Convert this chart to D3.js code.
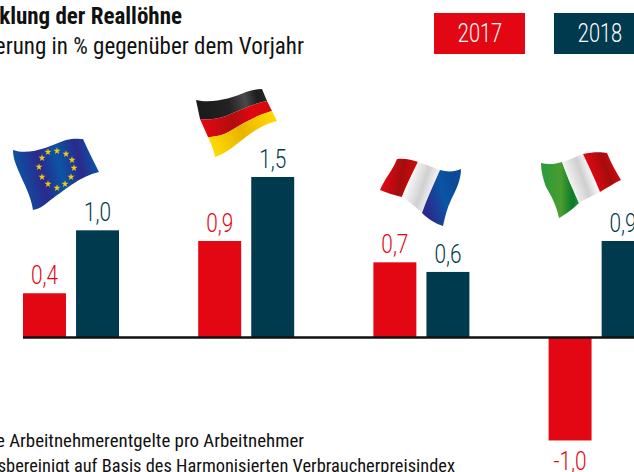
<!DOCTYPE html>
<html><head><meta charset="utf-8"><script src="https://cdn.jsdelivr.net/npm/d3@7"></script>
<style>html,body{margin:0;padding:0;background:#fff}svg{display:block}text{font-family:"Roboto Condensed",sans-serif}.lt{font-family:Roboto,sans-serif;font-weight:360}</style>
</head><body><svg id="c" width="634" height="472"></svg>
<script>
const categories = ["EU", "Deutschland", "Frankreich", "Italien"];
const years = ["2017", "2018"];
const values2017 = [0.41, 0.9, 0.7, -0.97];
const values2018 = [1.0, 1.5, 0.61, 0.9];
const colors = {"2017":"#e30613","2018":"#003a4f"};
const fmt = v => String(v.toFixed(1)).replace(".", ",");
const svg = d3.select("#c");

const x0 = d3.scaleBand().domain(categories).range([23, 723.8]);
const x1 = d3.scaleBand().domain(years).range([0, 96]).paddingInner(0.19);
const y = d3.scaleLinear().domain([0, 1.5]).range([337, 177]);

const cond = (sel, x, yy, sx) => sel.attr("transform", `translate(${x},${yy}) scale(${sx},1)`);

years.forEach((yr, k) => {
  const vals = k ? values2018 : values2017;
  const g = svg.append("g");
  g.selectAll("rect").data(vals).join("rect")
    .attr("x", (d,i) => x0(categories[i]) + x1(yr))
    .attr("width", x1.bandwidth())
    .attr("y", d => d >= 0 ? y(d) : y(0))
    .attr("height", d => Math.abs(y(d) - y(0)))
    .attr("fill", colors[yr]);
  vals.forEach((d,i) => {
    const t = g.append("text").attr("class","lt").attr("text-anchor","middle").attr("font-size",26)
      .attr("fill", colors[yr]).text(fmt(d));
    cond(t, x0(categories[i]) + x1(yr) + x1.bandwidth()/2, d >= 0 ? y(d) - 9 : y(d) + 30, 0.8);
  });
});
svg.append("line").attr("x1",23).attr("x2",634).attr("y1",y(0)+.5).attr("y2",y(0)+.5).attr("stroke","#111").attr("stroke-width",2.4);

// legend
[[434,"2017"],[554,"2018"]].forEach(([lx,t]) => {
  svg.append("rect").attr("x",lx).attr("y",13).attr("width",91).attr("height",41).attr("fill",colors[t]);
  cond(svg.append("text").attr("class","lt").attr("text-anchor","middle").attr("font-size",25).attr("fill","#fff").text(t), lx+46, 42, 0.8);
});
// titles
svg.append("text").attr("x",182).attr("y",24).attr("text-anchor","end").attr("font-size",23).attr("font-weight",700).attr("fill","#111").text("Entwicklung der Reallöhne");
svg.append("text").attr("x",304).attr("y",54).attr("text-anchor","end").attr("font-size",23).attr("fill","#111").text("Veränderung in % gegenüber dem Vorjahr");
svg.append("text").attr("x",304).attr("y",447).attr("text-anchor","end").attr("font-size",18.9).attr("fill","#111").text("Nominale Arbeitnehmerentgelte pro Arbeitnehmer");
svg.append("text").attr("x",455).attr("y",472).attr("text-anchor","end").attr("font-size",18.4).attr("fill","#111").text("preisbereinigt auf Basis des Harmonisierten Verbraucherpreisindex");

// flags
const defs = svg.append("defs");
function grad(id, stops, x1g, y1g, x2g, y2g){
  const g = defs.append("linearGradient").attr("id",id).attr("gradientUnits","userSpaceOnUse")
    .attr("x1",x1g).attr("y1",y1g).attr("x2",x2g).attr("y2",y2g);
  stops.forEach(([o,c]) => g.append("stop").attr("offset",o).attr("stop-color",c));
  return `url(#${id})`;
}
const P = (d,f) => svg.append("path").attr("d",d).attr("fill",f);
// EU
P("M13,150 C30,156 50,146 66,140 C74,138 80,139 83,139 C88,150 94,162 99,172 C80,176 62,192 48,202 C44,206 38,209 33,210 C31,196 24,184 19,172 C16,165 13,158 13,150Z",
  grad("eu",[[0,"#0a55a5"],[.32,"#2a2a8c"],[.55,"#0a55a5"],[.8,"#2a2a8c"],[1,"#0a55a5"]],16,178,96,160));
const stars = [[48,152],[57,151],[66,154],[72,160],[74,168],[71,177],[65,184],[57,188],[48,184],[42,177],[39,167],[42,158]];
svg.append("g").selectAll("path").data(stars).join("path")
  .attr("d", d3.symbol(d3.symbolStar, 15)).attr("transform", d=>`translate(${d[0]},${d[1]})`).attr("fill","#f4c911");
// DE
P("M196,100 C212,104 232,98 246,92 C252,90 258,89 262,89 L267,101 C252,104 238,111 226,116 C218,119 208,120 200,119Z",
  grad("de1",[[0,"#1a1a1a"],[.45,"#222"],[.68,"#4a4a4a"],[.85,"#1d1d1d"],[1,"#2a2a2a"]],196,110,268,95));
P("M200,119 C208,120 218,119 226,116 C238,111 252,104 267,101 L272,111 C258,115 245,122 232,130 C224,135 216,137 208,137Z",
  grad("de2",[[0,"#e30613"],[.45,"#b20d0d"],[.75,"#e30613"],[1,"#d00a0a"]],202,130,272,115));
P("M208,137 C216,137 224,135 232,130 C245,122 258,115 272,111 L277,121 C262,124 250,134 238,143 C231,149 222,155 215,157 C214,150 211,144 208,137Z",
  grad("de3",[[0,"#ffdf00"],[.5,"#e8b400"],[1,"#ffd800"]],210,150,275,120));
// FR
P("M380,190 C385,178 393,170 397,159 C405,158 412,160 418,162 C412,174 406,186 402,197 C394,195 387,193 380,190Z",
  grad("fr1",[[0,"#e30613"],[.55,"#a30d0d"],[1,"#d30a0a"]],384,176,414,182));
P("M418,162 C425,164 432,167 440,170 C434,184 427,198 422,213 C415,206 408,201 402,197 C406,186 412,174 418,162Z",
  grad("fr2",[[0,"#fff"],[.55,"#d0d0d0"],[1,"#fff"]],406,182,436,192));
P("M440,170 C447,172 455,172 461,169 C461,180 456,190 451,200 C447,208 445,217 443,226 C436,224 428,219 422,213 C427,198 434,184 440,170Z",
  grad("fr3",[[0,"#2a2a8c"],[.6,"#0a55a5"],[1,"#0a4a98"]],425,205,458,195));
// IT
P("M541,163 C548,165 556,164 562,162 C567,176 573,190 579,203 C574,208 565,215 559,218 C557,207 552,197 546,187 C543,179 541,171 541,163Z",
  grad("it1",[[0,"#2f9a3a"],[.45,"#4a9d2f"],[.8,"#0a7a2a"],[1,"#2f9a3a"]],545,190,580,190));
P("M562,162 C570,160 577,156 583,154 C589,167 595,179 600,192 C592,196 585,199 579,203 C573,190 567,176 562,162Z",
  grad("it2",[[0,"#f4f4f4"],[.55,"#cfcfcf"],[1,"#fff"]],570,185,595,176));
P("M583,154 C592,152 601,152 607,153 C611,163 616,172 621,180 C614,183 607,188 600,192 C595,179 589,167 583,154Z",
  grad("it3",[[0,"#e30613"],[.55,"#a30d0d"],[1,"#e30613"]],590,172,618,162));
</script></body></html>
